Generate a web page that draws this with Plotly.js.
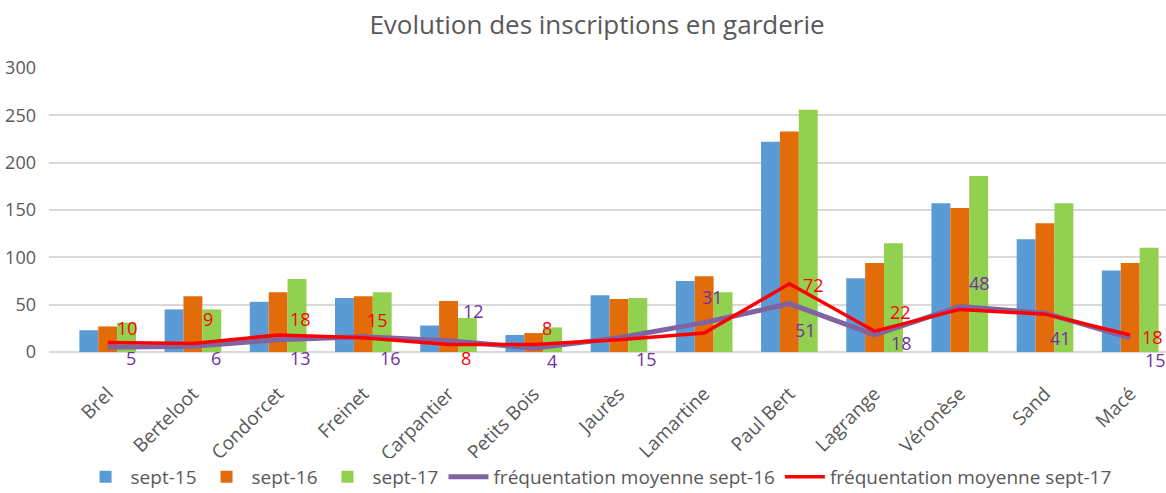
<!DOCTYPE html>
<html>
<head>
<meta charset="utf-8">
<script src="https://cdn.plot.ly/plotly-3.0.1.min.js"></script>
<style>html,body{margin:0;padding:0;background:#fff;}#chart{width:1166px;height:493px;}</style>
</head>
<body>
<div id="chart"></div>
<script>
const categories = ["Brel","Berteloot","Condorcet","Freinet","Carpantier","Petits Bois","Jaurès","Lamartine","Paul Bert","Lagrange","Véronèse","Sand","Macé"];
const sept15 = [23,45,53,57,28,18,60,75,222,78,157,119,86];
const sept16 = [27,59,63,59,54,20,56,80,233,94,152,136,94];
const sept17 = [31,45,77,63,36,26,57,63,256,115,186,157,110];
const freq16 = [5,6,13,16,12,4,15,31,51,18,48,41,15];
const freq17 = [10,9,18,15,8,8,13,20,72,22,45,40,18];
// shown data labels (null = hidden)
const freq16Labels = [5,6,13,16,12,4,15,31,51,18,48,41,15];
const freq17Labels = [10,9,18,15,8,8,null,null,72,22,null,null,18];
const yTicks = [0,50,100,150,200,250,300];

// label offsets in px (style)
const off16 = [[23,11],[23,12],[22,18],[27,21],[25,-30],[18,13],[28,21],[8,-26],[16,26],[27,8],[20,-24],[15,25],[25,22]];
const off17 = [[20,-15],[15,-24],[22,-16],[14,-18],[17,14],[13,-16],[0,0],[0,0],[24,1],[26,-19],[0,0],[0,0],[22,2]];

const FONT = "Open Sans, sans-serif";
const GRAY = "#595959";

const traces = [
  {type:"bar", name:"sept-15", x:categories, y:sept15, marker:{color:"#5B9BD5"}},
  {type:"bar", name:"sept-16", x:categories, y:sept16, marker:{color:"#E26B0A"}},
  {type:"bar", name:"sept-17", x:categories, y:sept17, marker:{color:"#92D050"}},
  {type:"scatter", mode:"lines", name:"fréquentation moyenne sept-16", x:categories, y:freq16, line:{color:"#8064A2", width:5}},
  {type:"scatter", mode:"lines", name:"fréquentation moyenne sept-17", x:categories, y:freq17, line:{color:"#FF0000", width:3.5}}
];

const annotations = [];
categories.forEach((c,i)=>{
  if (freq16Labels[i] !== null) annotations.push({x:c, y:freq16[i], text:String(freq16Labels[i]), showarrow:false,
    xshift:off16[i][0], yshift:-off16[i][1], font:{family:FONT, size:18, color:"#7030A0"}});
  if (freq17Labels[i] !== null) annotations.push({x:c, y:freq17[i], text:String(freq17Labels[i]), showarrow:false,
    xshift:off17[i][0], yshift:-off17[i][1], font:{family:FONT, size:18, color:"#FF0000"}});
});

const layout = {
  width:1166, height:493,
  margin:{l:49, r:0, t:68, b:141, autoexpand:false},
  paper_bgcolor:"#fff", plot_bgcolor:"#fff",
  font:{family:FONT, size:18, color:GRAY},
  title:{text:"Evolution des inscriptions en garderie", x:0.512, xanchor:"center", y:0.95, yanchor:"middle", font:{family:FONT, size:26, color:GRAY}},
  barmode:"group", bargap:0.335, bargroupgap:0,
  xaxis:{type:"category", range:[-0.689, 12.42], tickangle:-45, showgrid:false, zeroline:false, showline:false, ticks:"", ticklabelstandoff:26, tickfont:{family:FONT, size:19, color:GRAY}, automargin:false},
  yaxis:{range:[0,300], tickvals:yTicks, ticktext:yTicks.map(String), showgrid:true, gridcolor:"#D9D9D9", gridwidth:2, zeroline:true, zerolinecolor:"#D9D9D9", zerolinewidth:2, showline:false, ticks:"", ticklabelstandoff:12, tickfont:{family:FONT, size:18, color:GRAY}, automargin:false},
  legend:{orientation:"h", x:0.492, xanchor:"center", y:-0.44, yanchor:"middle", font:{family:FONT, size:19, color:GRAY}, traceorder:"normal", itemwidth:40},
  showlegend:true,
  hovermode:false,
  annotations:annotations
};

Plotly.newPlot("chart", traces, layout, {staticPlot:true, displayModeBar:false});
</script>
</body>
</html>
